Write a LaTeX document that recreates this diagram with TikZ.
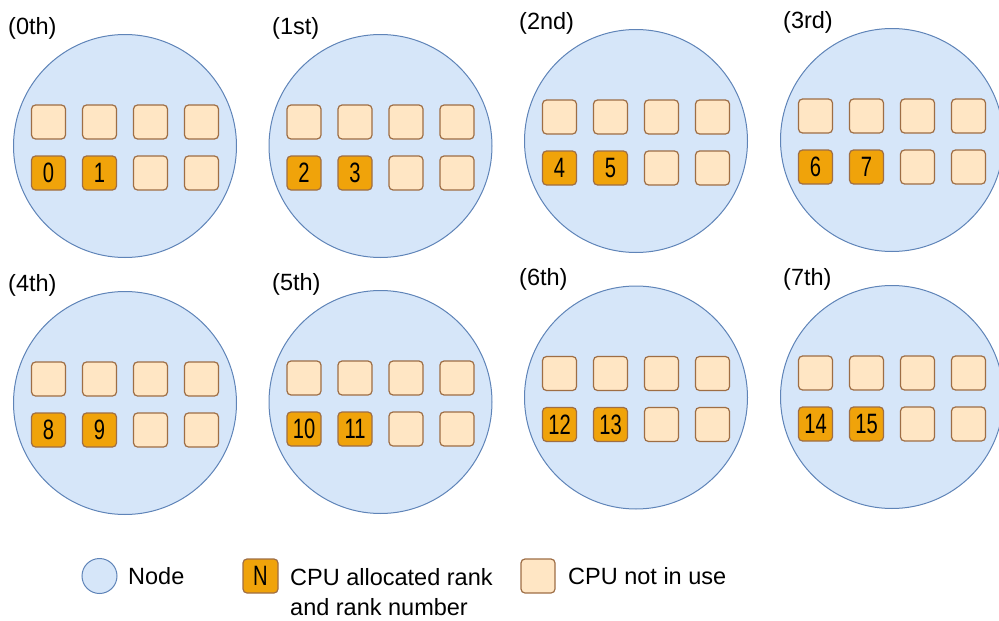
\documentclass[tikz,border=0pt]{standalone}
\usepackage{fontspec}
\setmainfont{Liberation Sans}
\newfontfamily\rankfont[FakeStretch=0.72]{Liberation Sans}
\usepackage{xcolor}
\usepackage{tikz}
\usetikzlibrary{positioning}

\definecolor{hostfill}{HTML}{D6E6F9}
\definecolor{hostline}{HTML}{5F84B8}
\definecolor{cpufree}{HTML}{FFE6C4}
\definecolor{cpuline}{HTML}{9E6E45}
\definecolor{cpurank}{HTML}{F0A30A}

\tikzset{
  hostnode/.style={circle,draw=hostline,fill=hostfill,line width=1pt,minimum size=223pt,inner sep=0pt},
  cpubox/.style={rectangle,rounded corners=4pt,draw=cpuline,fill=cpufree,line width=1.2pt,minimum size=34pt,inner sep=0pt},
  rankbox/.style={cpubox,fill=cpurank,font=\rankfont\fontsize{28}{28}\selectfont},
  caption/.style={inner sep=0pt,font=\fontsize{23.5}{30}\selectfont}
}

\begin{document}
\begin{tikzpicture}[x=1pt,y=-1pt]
  \useasboundingbox (0,0) rectangle (999,621);

  % Nodes (index/centre x/centre y/label x/order)
  \foreach \k/\cx/\cy/\lx/\ord in {0/125/146/8/0th,1/380.5/146/272/1st,2/636/141/519/2nd,3/892/140/783/3rd,
                                   4/125/403/8/4th,5/380.5/402/272/5th,6/636/397.5/519/6th,7/892/397/783/7th} {
    \node[hostnode] (host\k) at (\cx,\cy) {};
    \node[caption,anchor=west] (ord\k) at (\lx,\cy-118) {(\ord)};

    % upper row: CPUs not in use
    \foreach \c in {0,...,3}
      \node[cpubox] (cpu\k-0-\c) at (\cx-76.5+51*\c,\cy-24) {};

    % lower row: two ranks, two free
    \pgfmathtruncatemacro\ranka{2*\k}
    \pgfmathtruncatemacro\rankb{2*\k+1}
    \node[rankbox] (cpu\k-1-0) at (\cx-76.5,\cy+27) {\ranka};
    \node[rankbox] (cpu\k-1-1) at (\cx-25.5,\cy+27) {\rankb};
    \node[cpubox] (cpu\k-1-2) at (\cx+25.5,\cy+27) {};
    \node[cpubox] (cpu\k-1-3) at (\cx+76.5,\cy+27) {};
  }

  % Legend
  \node[hostnode,minimum size=35pt] (legnode) at (99.5,576) {};
  \node[caption,anchor=base west] (legnodetxt) at (128,584) {Node};
  \node[rankbox,minimum width=35pt] (legrank) at (260.5,576) {N};
  \node[caption,anchor=north west,align=left] (legranktxt) at (290,568) {CPU allocated rank\\and rank number};
  \node[cpubox] (legfree) at (538,576) {};
  \node[caption,anchor=base west] (legfreetxt) at (568,584) {CPU not in use};
\end{tikzpicture}
\end{document}
